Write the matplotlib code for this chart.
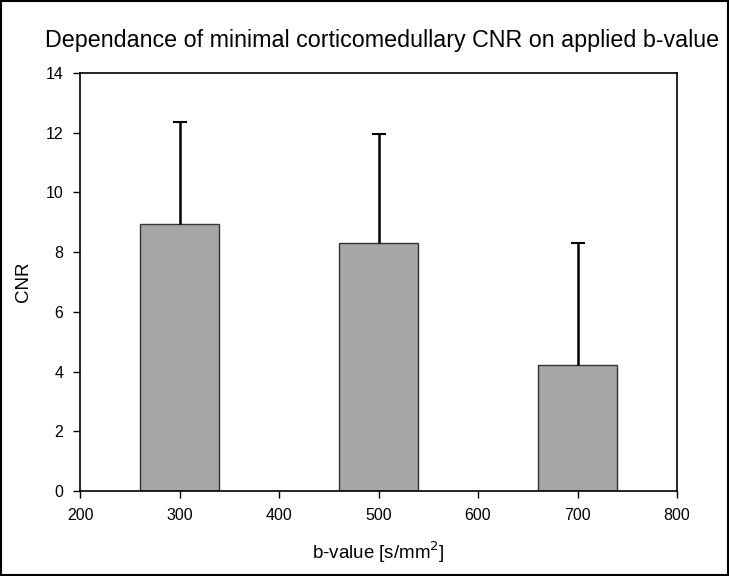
import matplotlib
matplotlib.use('Agg')
import matplotlib.pyplot as plt
from matplotlib.patches import Rectangle

b_values = [300, 500, 700]
cnr_mean = [8.94, 8.31, 4.22]
cnr_err = [3.42, 3.65, 4.09]

plt.rcParams['font.family'] = ['Liberation Sans', 'DejaVu Sans']

fig = plt.figure(figsize=(7.29, 5.76), dpi=100)
ax = fig.add_axes([80 / 729, 85 / 576, 597 / 729, 418 / 576])

ax.bar(b_values, cnr_mean, width=80, color='#a6a6a6', edgecolor='#333333', linewidth=1.0)
# upper error bars only
_, caps, _ = ax.errorbar(b_values, cnr_mean, yerr=[[0, 0, 0], cnr_err], fmt='none',
                         ecolor='black', elinewidth=1.8, capsize=5, capthick=1.5)
caps[0].set_visible(False)

ax.set_xlim(200, 800)
ax.set_ylim(0, 14)
ax.set_xticks(range(200, 801, 100))
ax.set_yticks(range(0, 15, 2))
ax.tick_params(direction='out', length=5, width=1, labelsize=11.5, pad=7)
for s in ax.spines.values():
    s.set_linewidth(1.2)

ax.set_xlabel('b-value [s/mm$^2$]', fontsize=13.5, labelpad=12)
ax.set_ylabel('CNR', fontsize=13.5, labelpad=10)
fig.text(0.524, 0.93, 'Dependance of minimal corticomedullary CNR on applied b-value',
         ha='center', va='center', fontsize=16.75)

fig.patches.append(Rectangle((0.001, 0.001), 0.997, 0.997, transform=fig.transFigure,
                             fill=False, edgecolor='black', linewidth=1.5))

fig.savefig('out.png', dpi=100)
